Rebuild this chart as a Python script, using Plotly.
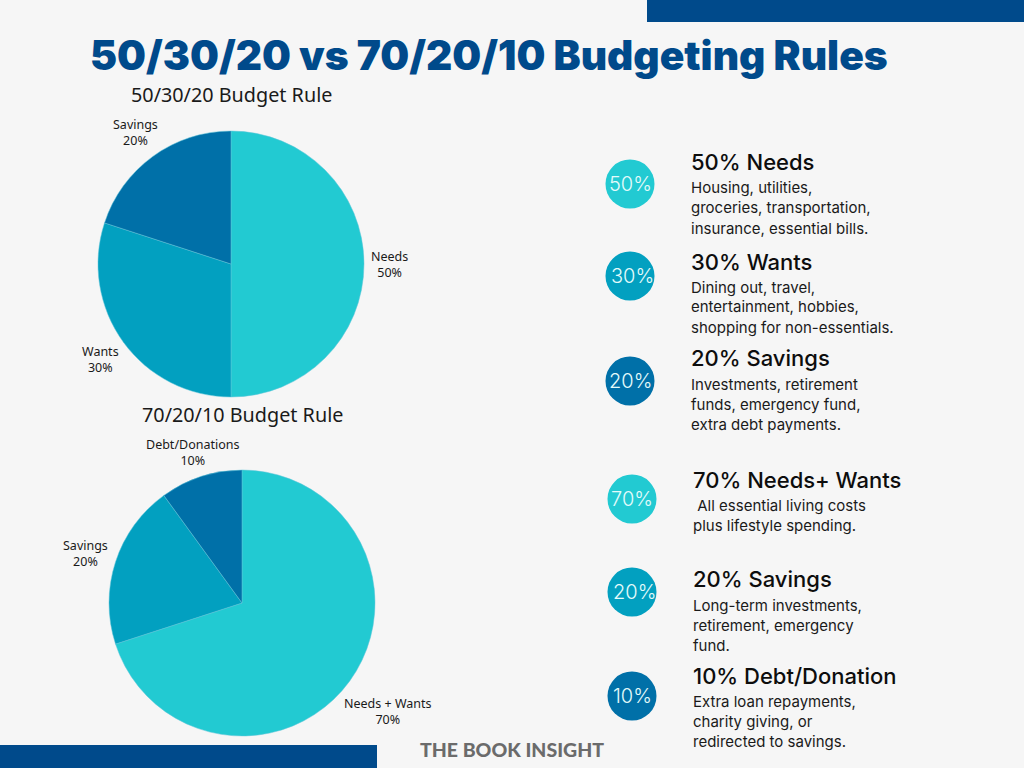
import plotly.graph_objects as go

W, H = 1024, 768
BG = '#f6f6f6'
NAVY = '#004a8b'
TEAL = '#22cad2'
MID = '#02a0c0'
DARK = '#0070a8'

# pie data
labels_a = ['Needs', 'Wants', 'Savings']
values_a = [50, 30, 20]
labels_b = ['Needs + Wants', 'Savings', 'Debt/Donations']
values_b = [70, 20, 10]
slice_colors = [TEAL, MID, DARK]

# right hand column
badges = ['50%', '30%', '20%', '70%', '20%', '10%']
headings = ['50% Needs', '30% Wants', '20% Savings',
            '70% Needs+ Wants', '20% Savings', '10% Debt/Donation']
details = [
    ['Housing, utilities,', 'groceries, transportation,', 'insurance, essential bills.'],
    ['Dining out, travel,', 'entertainment, hobbies,', 'shopping for non-essentials.'],
    ['Investments, retirement', 'funds, emergency fund,', 'extra debt payments.'],
    ['\u00a0All essential living costs', 'plus lifestyle spending.'],
    ['Long-term investments,', 'retirement, emergency', 'fund.'],
    ['Extra loan repayments,', 'charity giving, or', 'redirected to savings.'],
]

# layout of the rows, in pixels of the 1024x768 page
badge_x = [630, 630, 630, 632, 632, 632]
badge_y = [184, 276, 381, 499, 592, 696]
badge_text_x = [630, 632, 630, 632, 634, 632]
head_y = [162, 262, 358, 480, 579, 676]
text_x = [689, 689, 689, 691, 691, 691]  # annotation padding adds about 2px
line_y = [
    [188, 208, 228],
    [287, 307, 327],
    [384, 404, 424],
    [505, 525],
    [605, 625, 645],
    [701, 721, 741],
]
BADGE_R = 24.5

# centre of each two line slice label
slice_label_pos_a = [(389, 265), (100, 359), (135, 132)]
slice_label_pos_b = [(388, 711), (85, 553), (192, 452)]


def px_x(x):
    return x / W


def px_y(y):
    return 1 - y / H


def pie_domain(cx, cy, r):
    return dict(x=[px_x(cx - r), px_x(cx + r)], y=[px_y(cy + r), px_y(cy - r)])


def add_text(fig, x, y, text, size, color='#111111', family='Inter', anchor='left', weight=None):
    fig.add_annotation(x=px_x(x), y=px_y(y), xref='paper', yref='paper', text=text,
                       showarrow=False, xanchor=anchor, yanchor='middle',
                       font=dict(family=family, size=size, color=color, weight=weight))


def pie(labels, values, cx, cy, r):
    return go.Pie(labels=labels, values=values, domain=pie_domain(cx, cy, r),
                  sort=False, direction='clockwise', rotation=0,
                  marker=dict(colors=slice_colors, line=dict(color='#5fc4d8', width=0.5)),
                  textinfo='none', automargin=False, showlegend=False,
                  hoverinfo='label+percent')


def slice_labels(fig, labels, values, positions):
    # plotly's own outside labels land too far from where the original has them
    total = sum(values)
    for name, val, (x, y) in zip(labels, values, positions):
        add_text(fig, x, y, f'{name}<br>{val / total:.0%}', 12.5, '#1a1a1a', 'Noto Sans', 'center')


fig = go.Figure()
fig.add_trace(pie(labels_a, values_a, 231, 264, 133))
fig.add_trace(pie(labels_b, values_b, 242, 603, 133))
slice_labels(fig, labels_a, values_a, slice_label_pos_a)
slice_labels(fig, labels_b, values_b, slice_label_pos_b)

# corner bars
fig.add_shape(type='rect', xref='paper', yref='paper', x0=px_x(647), x1=1, y0=px_y(22), y1=1,
              fillcolor=NAVY, line_width=0)
fig.add_shape(type='rect', xref='paper', yref='paper', x0=0, x1=px_x(377), y0=0, y1=px_y(745),
              fillcolor=NAVY, line_width=0)

add_text(fig, 489, 56, '50/30/20 vs 70/20/10 Budgeting Rules', 40.7, NAVY, 'Inter', 'center', 900)
add_text(fig, 231, 94, '50/30/20 Budget Rule', 19.8, '#1a1a1a', 'Noto Sans', 'center')
add_text(fig, 242, 414, '70/20/10 Budget Rule', 19.8, '#1a1a1a', 'Noto Sans', 'center')
add_text(fig, 512, 749, 'THE BOOK INSIGHT', 19.5, '#6b6b6b', 'Lato', 'center', 900)

badge_colors = slice_colors * 2
for i, label in enumerate(badges):
    fig.add_shape(type='circle', xref='paper', yref='paper',
                  x0=px_x(badge_x[i] - BADGE_R), x1=px_x(badge_x[i] + BADGE_R),
                  y0=px_y(badge_y[i] + BADGE_R), y1=px_y(badge_y[i] - BADGE_R),
                  fillcolor=badge_colors[i], line_width=0)
    add_text(fig, badge_text_x[i], badge_y[i], label, 20, '#e4fbfb', 'Inter', 'center', 300)
    add_text(fig, text_x[i], head_y[i], headings[i], 22, '#0d0d0d', 'Inter', 'left', 500)
    for y, line in zip(line_y[i], details[i]):
        add_text(fig, text_x[i], y, line, 15, '#1a1a1a', 'Inter')

fig.update_layout(width=W, height=H, margin=dict(l=0, r=0, t=0, b=0),
                  paper_bgcolor=BG, plot_bgcolor=BG)

fig.write_html('out.html', config=dict(displayModeBar=False),
               post_script="document.body.style.margin='0';")
